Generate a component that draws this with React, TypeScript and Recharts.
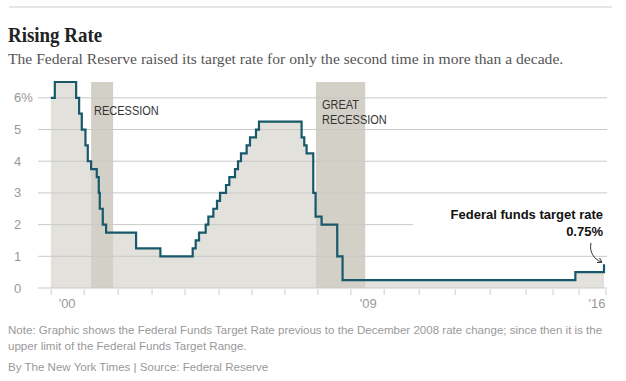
import {
  ComposedChart,
  Area,
  Line,
  XAxis,
  YAxis,
  ReferenceArea,
  ReferenceLine,
} from "recharts";

// Fed funds target rate (decimal year, percent)
const RATE_DATES = [
  2000.25, 2000.37, 2001.01, 2001.1, 2001.18, 2001.29, 2001.36, 2001.46, 2001.63,
  2001.69, 2001.72, 2001.81, 2001.91, 2002.81, 2003.54, 2004.51, 2004.6, 2004.7,
  2004.9, 2004.98, 2005.13, 2005.24, 2005.33, 2005.51, 2005.61, 2005.78, 2005.87,
  2005.96, 2006.13, 2006.23, 2006.41, 2006.5, 2007.78, 2007.86, 2007.93, 2008.13,
  2008.2, 2008.38, 2008.85, 2009.01, 2016.0, 2016.86,
];
const RATE_VALUES = [
  6.0, 6.5, 6.0, 5.5, 5.0, 4.5, 4.0, 3.75, 3.5,
  3.0, 2.5, 2.0, 1.75, 1.25, 1.0, 1.25, 1.5, 1.75,
  2.0, 2.25, 2.5, 2.75, 3.0, 3.25, 3.5, 3.75, 4.0,
  4.25, 4.5, 4.75, 5.0, 5.25, 4.75, 4.5, 4.25, 3.0,
  2.25, 2.0, 1.0, 0.25, 0.5, 0.75,
];

const RECESSIONS = [
  { from: 2001.46, to: 2002.12, label: ["RECESSION"] },
  { from: 2008.21, to: 2009.69, label: ["GREAT", "RECESSION"] },
];

const Y_TICKS = [0, 1, 2, 3, 4, 5, 6];
const YEAR_TICKS = [
  2000.26, 2001.25, 2002.27, 2003.29, 2004.28, 2005.3, 2006.29, 2007.28, 2008.27,
  2009.26, 2010.26, 2011.31, 2012.39, 2013.44, 2014.52, 2015.33, 2016.11, 2016.92,
];
const YEAR_LABELS = [
  { t: 2000.74, label: "'00" },
  { t: 2009.78, label: "'09" },
  { t: 2016.65, label: "'16" },
];

const X_MIN = 1999.865;
const X_MAX = 2016.95;
const GRID_2_END = 2011.13;

const data = RATE_DATES.map((t, i) => ({ t, v: RATE_VALUES[i] }));
const labelMap = new Map(YEAR_LABELS.map((d) => [d.t, d.label]));

const SANS = "'Liberation Sans', Arial, sans-serif";
const SERIF = "'Liberation Serif', 'Times New Roman', serif";

function XTick({ x, y, payload }: any) {
  const lab = labelMap.get(payload.value);
  if (lab) {
    return (
      <text x={x} y={y + 20} textAnchor="middle" fontSize={13} fill="#999" fontFamily={SANS}>
        {lab}
      </text>
    );
  }
  return <line x1={x} x2={x} y1={y + 1.5} y2={y + 7} stroke="#ccc" strokeWidth={1} />;
}

function YTick({ y, payload }: any) {
  return (
    <text x={14} y={y + 4.5} fontSize={13} fill="#999" fontFamily={SANS}>
      {payload.value === 6 ? "6%" : payload.value}
    </text>
  );
}

export default function App() {
  return (
    <div style={{ position: "absolute", left: 0, top: 0, width: 626, height: 381, background: "#fff" }}>
      <div style={{ position: "absolute", left: 9, top: 6, width: 603, height: 2, background: "#e6e6e6" }} />
      <div
        style={{
          position: "absolute",
          left: 8,
          top: 24,
          fontFamily: SERIF,
          fontWeight: 700,
          fontSize: 22,
          lineHeight: "22px",
          color: "#222",
          transform: "scaleX(0.86)",
          transformOrigin: "left",
          whiteSpace: "nowrap",
        }}
      >
        Rising Rate
      </div>
      <div
        style={{
          position: "absolute",
          left: 8,
          top: 51,
          fontFamily: SERIF,
          fontSize: 15.6,
          lineHeight: "16px",
          color: "#555",
          whiteSpace: "nowrap",
        }}
      >
        The Federal Reserve raised its target rate for only the second time in more than a decade.
      </div>

      <div style={{ position: "absolute", left: 0, top: 72 }}>
        <ComposedChart width={626} height={250} data={data} margin={{ top: 10, right: 19, left: 0, bottom: 0 }}>
          <XAxis
            type="number"
            dataKey="t"
            domain={[X_MIN, X_MAX]}
            allowDataOverflow
            ticks={[...YEAR_TICKS, ...YEAR_LABELS.map((d) => d.t)]}
            interval={0}
            tick={<XTick />}
            tickLine={false}
            axisLine={false}
            tickSize={0}
            tickMargin={0}
            height={34}
          />
          <YAxis
            domain={[0, 6.5]}
            ticks={Y_TICKS}
            interval={0}
            tick={<YTick />}
            tickLine={false}
            axisLine={false}
            width={38}
          />
          <Area
            type="stepAfter"
            dataKey="v"
            fill="#e3e1dc"
            fillOpacity={1}
            stroke="none"
            isAnimationActive={false}
          />
          {RECESSIONS.map((r) => (
            <ReferenceArea
              key={r.from}
              x1={r.from}
              x2={r.to}
              y1={0}
              y2={6.5}
              fill="#d3d0c8"
              fillOpacity={1}
              stroke="none"
            />
          ))}
          {Y_TICKS.map((v) => (
            <ReferenceLine
              key={v}
              segment={[
                { x: X_MIN, y: v },
                { x: v === 2 ? GRID_2_END : X_MAX, y: v },
              ]}
              stroke="#c9c9c6"
              strokeWidth={1}
            />
          ))}
          <Line
            type="stepAfter"
            dataKey="v"
            stroke="#17596b"
            strokeWidth={2.2}
            dot={false}
            activeDot={false}
            isAnimationActive={false}
          />
        </ComposedChart>
      </div>

      <div style={{ position: "absolute", left: 94, top: 104, fontFamily: SANS, fontSize: 12.5, lineHeight: "15px", color: "#333", transform: "scaleX(0.88)", transformOrigin: "left" }}>
        {RECESSIONS[0].label.join(" ")}
      </div>
      <div style={{ position: "absolute", left: 322, top: 98, fontFamily: SANS, fontSize: 12.5, lineHeight: "15px", color: "#333", transform: "scaleX(0.88)", transformOrigin: "left" }}>
        {RECESSIONS[1].label.map((l) => (
          <div key={l}>{l}</div>
        ))}
      </div>

      <div style={{ position: "absolute", right: 23, top: 206, fontFamily: SANS, fontWeight: 700, fontSize: 13, lineHeight: "17px", color: "#111", textAlign: "right", whiteSpace: "nowrap" }}>
        Federal funds target rate
        <br />
        0.75%
      </div>
      <svg width={626} height={381} style={{ position: "absolute", left: 0, top: 0, pointerEvents: "none" }}>
        <path d="M591,243 C589,252 594,259 601,262" fill="none" stroke="#333" strokeWidth={1} />
        <path d="M597,262.5 L602,262.3 L599.5,258" fill="none" stroke="#333" strokeWidth={1} />
      </svg>

      <div style={{ position: "absolute", left: 8, top: 322, fontFamily: SANS, fontSize: 11.55, lineHeight: "16px", color: "#999", whiteSpace: "nowrap" }}>
        Note: Graphic shows the Federal Funds Target Rate previous to the December 2008 rate change; since then it is the
        <br />
        upper limit of the Federal Funds Target Range.
      </div>
      <div style={{ position: "absolute", left: 8, top: 359, fontFamily: SANS, fontSize: 11.55, lineHeight: "16px", color: "#999", whiteSpace: "nowrap" }}>
        By The New York Times | Source: Federal Reserve
      </div>
    </div>
  );
}
